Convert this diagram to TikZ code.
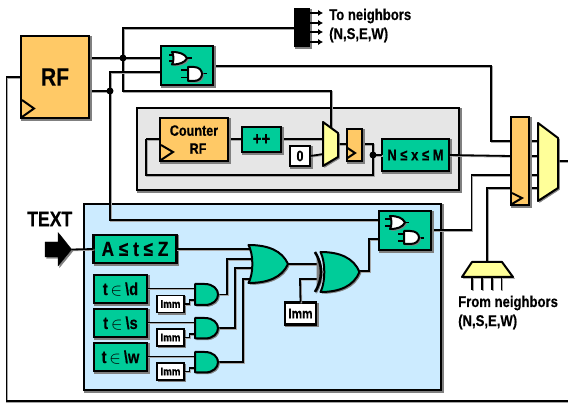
\documentclass[tikz,border=0pt]{standalone}
\usepackage{fontspec}
\setmainfont[FakeStretch=0.84,BoldFont={Liberation Sans Bold},BoldFeatures={FakeBold=0.35}]{Liberation Sans}
\definecolor{grn}{HTML}{00CC99}
\definecolor{org}{HTML}{FFC966}
\definecolor{ylw}{HTML}{FFFF99}
\definecolor{blu}{HTML}{CCEBFF}
\definecolor{gry}{HTML}{E6E6E6}
\tikzset{
  sh/.style={preaction={fill=black!50,draw=black!50,transform canvas={shift={(1.5pt,-1.5pt)}}}},
  wire/.style={line width=1.8pt,line join=miter,preaction={draw=black!35,line width=1.8pt,transform canvas={shift={(.8pt,-.8pt)}}}},
  boxn/.style={draw=black,line width=2.2pt,inner sep=0pt,outer sep=0pt,sh,font=\bfseries,align=center},
  grnbox/.style={boxn,fill=grn},
  orgbox/.style={boxn,fill=org},
  immbox/.style={boxn,fill=white,line width=1.8pt},
  gate/.style={draw=black,line width=2pt,line join=round,sh},
  clk/.style={draw=black,line width=2pt,line join=miter},
  dot/.style={circle,fill=black,inner sep=0pt,minimum size=7pt},
  lbl/.style={font=\bfseries,inner sep=0pt,anchor=west},
  tick/.style={line width=1.4pt},
  arr/.style={line width=1.6pt,-{Latex[length=5pt,width=6.5pt]}}
}
\usetikzlibrary{arrows.meta}
\newcommand\andgate[5]{\begin{scope}[shift={(#1,#2)},x=#3pt,y=-#4pt]
 \draw[gate,fill=#5] (0,0) -- (.42,0) .. controls (.8,0) and (1,.25) .. (1,.5) .. controls (1,.75) and (.8,1) .. (.42,1) -- (0,1) -- cycle;
 \end{scope}}
\newcommand\orgate[5]{\begin{scope}[shift={(#1,#2)},x=#3pt,y=-#4pt]
 \draw[gate,fill=#5] (0,0) .. controls (.5,0) and (.85,.15) .. (1,.5) .. controls (.85,.85) and (.5,1) .. (0,1) .. controls (.13,.75) and (.13,.25) .. (0,0) -- cycle;
 \end{scope}}
\begin{document}
\begin{tikzpicture}[x=1pt,y=-1pt]
\useasboundingbox (0,0) rectangle (568,403);
% panels
\node[boxn,fill=gry,minimum width=322pt,minimum height=82pt] (grey) at (298,149) {};
\node[boxn,fill=blu,minimum width=357pt,minimum height=186pt] (blue) at (262.5,297) {};
% junctions and free coordinates
\coordinate (j1) at (123,58);
\coordinate (j2) at (110,91);
\coordinate (j3) at (373,155);
\coordinate (rfa) at (89,58);
\coordinate (rfb) at (89,91);
\coordinate (rfl) at (21,77);
\coordinate (edge) at (568,401);
\coordinate (b1a) at (161,58);
\coordinate (b1b) at (161,72);
\coordinate (b1o) at (213,66);
\coordinate (b2a) at (379,220);
\coordinate (b2b) at (379,239);
\coordinate (b2o) at (431,230);
\coordinate (busin) at (294,28);
\coordinate (muxtop) at (331,127);
\coordinate (muxa) at (323,139);
\coordinate (muxb) at (323,154);
\coordinate (muxo) at (338,144);
\coordinate (crin) at (160,139);
\coordinate (crout) at (228,139);
\coordinate (srin) at (347,144);
\coordinate (srout) at (362,144);
\coordinate (rega) at (511,141);
\coordinate (regb) at (511,156);
\coordinate (regc) at (511,175);
\coordinate (regd) at (511,188);
\coordinate (rmux) at (558,161);
\coordinate (outr) at (568,161);
\coordinate (trap) at (487,262);
\coordinate (ora) at (252,249);
\coordinate (orb) at (253,259);
\coordinate (orc) at (253,268);
\coordinate (ord) at (251,279);
\coordinate (oro) at (288,264);
\coordinate (xoa) at (318,264);
\coordinate (xob) at (318,279);
\coordinate (xoo) at (359,271);
% wires
\draw[wire] (rfl) -- (6.5,77) -- (6.5,401) -- (edge);
\draw[wire] (rfa) -- (j1) -- (b1a);
\draw[wire] (busin) -- (123,28) -- (j1) -- (123,91) -- (331,91) -- (muxtop);
\draw[wire] (rfb) -- (j2) -- (110,72) -- (b1b);
\draw[wire] (j2) -- (110,220) -- (b2a);
\draw[wire] (b1o) -- (491,66) -- (491,141) -- (rega);
\draw[wire] (b2o) -- (471.5,230) -- (471.5,175) -- (regc);
\draw[wire] (trap) -- (487,188) -- (regd);
\draw[wire] (rega) -- (540,141);
\draw[wire] (regb) -- (540,156);
\draw[wire] (regc) -- (540,175);
\draw[wire] (regd) -- (540,188);
\draw[wire] (rmux) -- (outr);
% counter loop
\draw[wire] (crout) -- (muxa);
\draw[wire] (146,139) -- (crin);
\draw[wire] (j3) -- (373,175) -- (146,175) -- (146,139);
\draw[wire] (muxo) -- (srin);
\draw[wire] (srout) -- (373,144) -- (j3);
% components: top
\node[orgbox,minimum width=68pt,minimum height=82pt,font=\bfseries\fontsize{25}{25}\selectfont] (rf) at (55,77) {RF};
\draw[clk] (22,100) -- (34,108.5) -- (22,117);
\node[grnbox,minimum width=52pt,minimum height=39pt] (b1) at (187,65.5) {};
\draw[tick] (169,55) -- (173,55) (169,61) -- (173,61) (181,70) -- (188,70) (181,77.5) -- (188,77.5) (187,58) -- (192,58) (202,73.5) -- (207,73.5);
\orgate{172}{52}{15}{12.5}{white}
\andgate{188}{67}{14}{14}{white}
% neighbours out
\node[fill=black,sh,inner sep=0pt,minimum width=16pt,minimum height=39pt] (bus) at (302,27.5) {};
\foreach \yy in {13,23,32,42}{\draw[arr] (310,\yy) -- (323,\yy);}
\node[lbl,font=\bfseries\fontsize{15.6}{16}\selectfont] (tn1) at (329,16) {To neighbors};
\node[lbl,font=\bfseries\fontsize{15.6}{16}\selectfont] (tn2) at (329,35) {(N,S,E,W)};
% counter
\node[orgbox,minimum width=68pt,minimum height=43pt,font=\bfseries\fontsize{15}{19}\selectfont] (cr) at (194,139.5) {Counter\\[-1pt]\hspace*{8pt}RF};
\draw[clk] (161,145) -- (173,152) -- (161,160);
\node[grnbox,minimum width=39pt,minimum height=25pt,font=\bfseries\fontsize{18}{18}\selectfont] (pp) at (261.5,139.5) {++};
\node[immbox,line width=2.2pt,minimum width=20pt,minimum height=20pt,font=\bfseries\fontsize{15}{15}\selectfont] (zero) at (300,156) {0};
\draw[wire] (zero.east) -- (317,155) -- (muxb);
\draw[gate,fill=ylw] (323,122) -- (338,133) -- (338,157) -- (323,166) -- cycle;
\node[orgbox,minimum width=15pt,minimum height=32pt] (sr) at (354.5,145) {};
\draw[clk] (347.5,148) -- (355,153) -- (347.5,158);
\node[grnbox,minimum width=67pt,minimum height=32pt,font=\bfseries\fontsize{15.5}{15.5}\selectfont] (nx) at (415.5,155) {N ≤ x ≤ M};
\draw[wire] (j3) -- (nx.west);
\draw[wire] (nx.east) -- (regb);
% register + mux
\node[orgbox,minimum width=18pt,minimum height=88pt] (reg) at (520,161) {};
\draw[clk] (512,193) -- (522,198) -- (512,204);
\draw[gate,fill=ylw] (538,123) -- (558,138) -- (558,188) -- (538,201) -- cycle;
% neighbours in
\draw[gate,fill=ylw] (472,262) -- (502,262) -- (513,277) -- (462,277) -- cycle;
\foreach \xx in {472,482,492,501.5}{\draw[wire] (\xx,278) -- (\xx,290);}
\node[lbl,font=\bfseries\fontsize{15.6}{16}\selectfont] (fn1) at (458,303) {From neighbors};
\node[lbl,font=\bfseries\fontsize{15.6}{16}\selectfont] (fn2) at (458,322) {(N,S,E,W)};
% TEXT
\node[lbl,font=\bfseries\fontsize{21}{21}\selectfont] (txt) at (27,219) {TEXT};
\coordinate (tip) at (71.5,249.5);
\draw[fill=black,draw=black,line width=.3pt,sh] (45,242) -- (58,242) -- (58,232.5) -- (tip) -- (58,266) -- (58,257) -- (45,257) -- cycle;
% recognisers
\node[grnbox,minimum width=83pt,minimum height=28pt,font=\bfseries\fontsize{20.5}{20}\selectfont] (az) at (135,249) {A ≤ t ≤ Z};
\draw[wire] (tip) -- (az.west);
\draw[wire] (az.east) -- (ora);
\node[grnbox,minimum width=53pt,minimum height=28pt,font=\bfseries\fontsize{17.5}{18}\selectfont] (cd) at (120.5,289) {t\,$\in$\,\textbackslash d};
\node[grnbox,minimum width=53pt,minimum height=28pt,font=\bfseries\fontsize{17.5}{18}\selectfont] (cs) at (120.5,323) {t\,$\in$\,\textbackslash s};
\node[grnbox,minimum width=53pt,minimum height=28pt,font=\bfseries\fontsize{17.5}{18}\selectfont] (cw) at (120.5,357) {t\,$\in$\,\textbackslash w};
\node[immbox,minimum width=27pt,minimum height=17pt,font=\bfseries\fontsize{11.5}{12}\selectfont] (i1) at (170.5,304) {Imm};
\node[immbox,minimum width=27pt,minimum height=17pt,font=\bfseries\fontsize{11.5}{12}\selectfont] (i2) at (170.5,337.5) {Imm};
\node[immbox,minimum width=27pt,minimum height=17pt,font=\bfseries\fontsize{11.5}{12}\selectfont] (i3) at (170.5,371.5) {Imm};
\coordinate (a1) at (195,288.5);
\coordinate (a2) at (195,322.5);
\coordinate (a3) at (195,356.5);
\coordinate (p1) at (195,300);
\coordinate (p2) at (195,334);
\coordinate (p3) at (195,368);
\coordinate (q1) at (218,294.5);
\coordinate (q2) at (218,328);
\coordinate (q3) at (218,362);
\draw[wire] (cd.east|-a1) -- (a1);
\draw[wire] (cs.east|-a2) -- (a2);
\draw[wire] (cw.east|-a3) -- (a3);
\draw[wire] (i1.east) -- (189.5,304) -- (189.5,300) -- (p1);
\draw[wire] (i2.east) -- (189.5,337.5) -- (189.5,334) -- (p2);
\draw[wire] (i3.east) -- (189.5,371.5) -- (189.5,368) -- (p3);
\draw[wire] (q1) -- (227,294.5) -- (227,259) -- (orb);
\draw[wire] (q2) -- (235,328) -- (235,268) -- (orc);
\draw[wire] (q3) -- (243,362) -- (243,279) -- (ord);
\andgate{195}{284}{23}{21}{grn}
\andgate{195}{318}{23}{20.5}{grn}
\andgate{195}{352}{23}{20.5}{grn}
\orgate{248.5}{245}{39.5}{38}{grn}
% xor stage
\node[immbox,line width=2.2pt,minimum width=31pt,minimum height=22pt,font=\bfseries\fontsize{14}{14}\selectfont] (imm) at (300.5,313.5) {Imm};
\draw[wire] (oro) -- (xoa);
\draw[wire] (imm.north) -- (300,279) -- (xob);
\draw[wire] (xoo) -- (369,271) -- (369,239) -- (b2b);
\draw[line width=2.6pt,sh] (315,252) .. controls (323,265) and (323,279) .. (315,292);
\orgate{320.5}{252}{39}{40}{grn}
% output logic box
\node[grnbox,minimum width=52pt,minimum height=39pt] (b2) at (405,230.5) {};
\draw[tick] (385,219) -- (390,219) (385,226) -- (390,226) (398,234) -- (404,234) (398,241) -- (404,241) (405,222.5) -- (409,222.5) (419,238) -- (424,238);
\orgate{390}{216}{15}{13}{white}
\andgate{404}{231}{15}{13}{white}
% junction dots on top
\node[dot] (d1) at (j1) {};
\node[dot] (d2) at (j2) {};
\node[dot] (d3) at (j3) {};
\end{tikzpicture}
\end{document}
